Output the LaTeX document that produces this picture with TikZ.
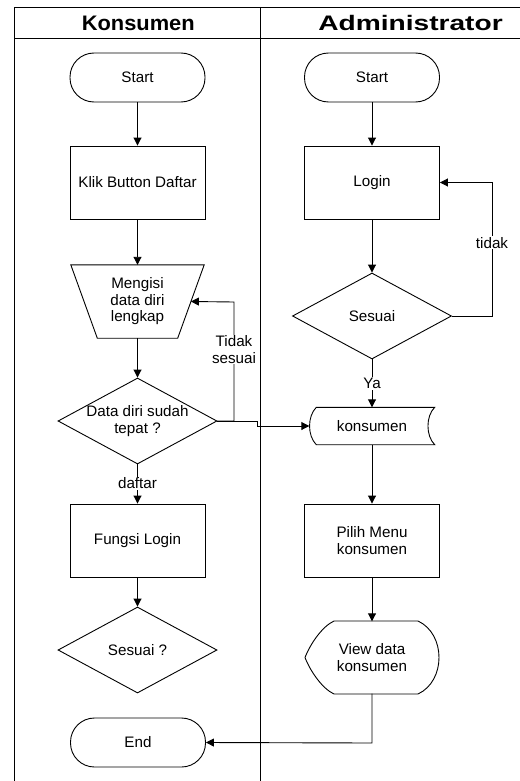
\documentclass[tikz,border=0pt]{standalone}
\usepackage{fontspec}
\usepackage{graphicx}
\setmainfont{Liberation Sans}
\usetikzlibrary{shapes.geometric,arrows.meta,calc}
\begin{document}
\begin{tikzpicture}[x=1pt,y=-1pt,
  every node/.style={font=\fontsize{15.2}{16.5}\selectfont},
  base/.style={draw, line width=0.9pt},
  term/.style={base, rectangle, rounded corners=24pt, minimum width=135pt, minimum height=49pt},
  proc/.style={base, rectangle, minimum width=135pt, minimum height=73pt, align=center},
  dia/.style={base, diamond, minimum width=159pt, minimum height=86pt, inner sep=0pt},
  plain/.style={minimum width=#1, align=center, inner sep=0pt},
  flow/.style={line width=0.9pt, -{Triangle[length=8pt,width=8pt]}},
  conn/.style={line width=0.9pt},
  lbl/.style={fill=white, inner sep=1pt, align=center},
  hdr/.style={font=\bfseries\fontsize{21}{24}\selectfont},
]
\useasboundingbox (0,0) rectangle (519,781);
% swimlane frame
\draw[conn] (14,781) -- (14,7) -- (522,7);
\draw[conn] (14,38) -- (522,38);
\draw[conn] (260,7) -- (260,781);
\node[hdr] (h1) at (138.3,23) {\scalebox{1.04}[1]{Konsumen}};
\node[hdr] (h2) at (410.5,23) {\scalebox{1.34}[1]{Administrator}};

% Konsumen lane
\node[term] (s1) at (137.5,77.5) {Start};
\node[proc] (k1) at (137.5,182.5) {Klik Button Daftar};
\node[plain=133pt, minimum height=73pt] (m) at (137.5,301.5) {Mengisi\\data diri\\lengkap};
\draw[conn] (m.north west) -- (m.north east) -- ($(m.south east)+(-26.5,0)$) -- ($(m.south west)+(26.5,0)$) -- cycle;
\coordinate (mr) at ($(m.east)+(-13.25,0)$);
\node[dia, label={[align=center]center:Data diri sudah\\tepat ?}] (d1) at (137.5,421) {};
\node[proc] (f) at (137.5,540.5) {Fungsi Login};
\node[dia, label={center:Sesuai ?}] (d2) at (137.5,650) {};
\node[term] (e) at (138,742.5) {End};

% Administrator lane
\node[term] (s2) at (372,77.5) {Start};
\node[proc] (lg) at (372,182.5) {Login};
\node[dia, label={center:Sesuai}] (d3) at (372,316) {};
\node[plain=125pt, minimum height=37pt] (ks) at (372,426) {konsumen};
\draw[conn] ($(ks.north west)+(7,0)$) -- (ks.north east)
  .. controls ($(ks.north east)+(-9,9)$) and ($(ks.south east)+(-9,-9)$) .. (ks.south east)
  -- ($(ks.south west)+(7,0)$)
  .. controls ($(ks.south west)+(-2,-9)$) and ($(ks.north west)+(-2,9)$) .. ($(ks.north west)+(7,0)$) -- cycle;
\node[proc] (pm) at (372,540.5) {Pilih Menu\\konsumen};
\node[plain=134pt, minimum height=73pt] (vd) at (372,657.5) {View data\\konsumen};
\begin{scope}[shift={(vd.center)}]
\draw[conn] (-67,0) .. controls (-62,-13) and (-50,-31) .. (-38,-36.5)
  -- (46,-36.5) .. controls (60,-30) and (67,-15) .. (67,0)
  .. controls (67,15) and (60,30) .. (46,36.5)
  -- (-38,36.5) .. controls (-50,31) and (-62,13) .. (-67,0) -- cycle;
\end{scope}

% connectors
\draw[flow] (s1) -- (k1);
\draw[flow] (k1) -- (m);
\draw[flow] (m) -- (d1);
\draw[flow] (d1) -- node[lbl, pos=0.48] {daftar} (f);
\draw[flow] (f) -- (d2);
\draw[flow] (d1.east) -- (234,421) -- node[lbl, pos=0.6] {Tidak\\sesuai} (234,302) -- (mr);
\draw[flow] (d1.east) -- (257,421) -- (257,426) -- (ks.west);

\draw[flow] (s2) -- (lg);
\draw[flow] (lg) -- (d3);
\draw[flow] (d3.east) -- (492,316) -- node[lbl, pos=0.55] {tidak} (492,182.5) -- (lg.east);
\draw[flow] (d3.south) -- node[lbl, pos=0.5] {Ya} (ks.north);
\draw[flow] (ks) -- (pm);
\draw[flow] (pm) -- ($(vd.north)+(0,0.5)$);
\draw[flow] ($(vd.south)+(0,-0.5)$) -- (372,743) -- (e.east);
\end{tikzpicture}
\end{document}
